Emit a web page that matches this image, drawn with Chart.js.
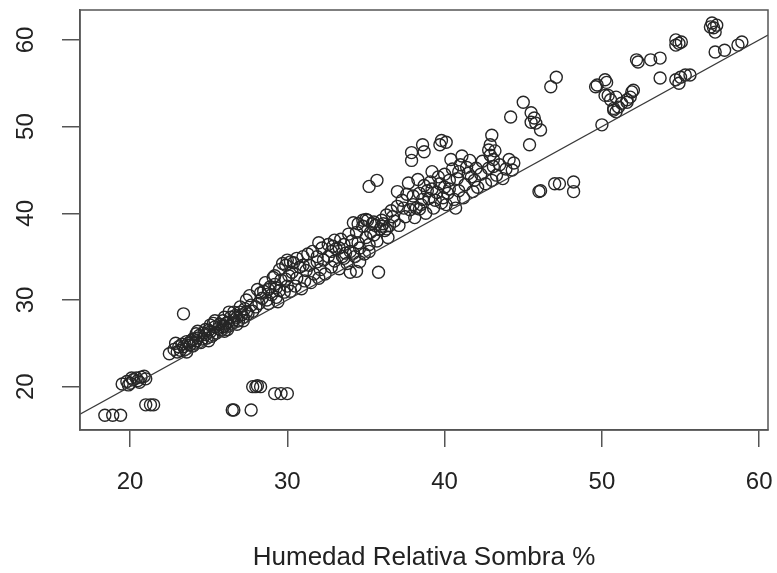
<!DOCTYPE html>
<html lang="es">
<head>
<meta charset="UTF-8">
<title>Humedad Relativa Sombra %</title>
<script src="https://cdn.jsdelivr.net/npm/chart.js"></script>
<style>
    html, body { margin: 0; padding: 0; background: #fff; }
    #wrap { width: 777px; height: 573px; }
</style>
</head>
<body>
<div id="wrap"><canvas id="scatter"></canvas></div>
<script>
// values, x = Humedad Relativa Sombra %
const xSombra = [
    18.4, 18.9, 19.4, 21.0, 21.3, 21.5, 26.5, 26.6, 27.7, 27.8, 28.0, 28.3, 28.1, 29.2, 29.6, 30.0, 23.4,
    19.5, 19.8, 20.0, 20.2, 20.4, 20.5, 20.7, 20.9, 20.6, 20.1, 21.0, 19.9,
    22.8, 23.0, 23.1, 23.3, 23.5, 23.6, 23.8, 24.0,
    24.2, 24.4, 24.5, 24.7, 24.9, 25.0, 25.2, 25.4, 25.5, 25.7, 25.8, 26.0, 24.3, 25.1, 25.9,
    26.2, 26.4, 26.5, 26.7, 26.9, 27.0, 27.2, 27.3, 27.5, 27.7, 27.8, 28.0, 26.3, 27.4, 27.6, 28.1,
    28.2, 28.4, 28.5, 28.7, 28.9, 29.0, 29.2, 29.3, 29.5, 29.6, 29.8, 30.0, 30.1, 28.6, 29.1, 29.7, 30.0, 29.4,
    30.2, 30.3, 30.5, 30.6, 30.8, 30.9, 31.1, 31.2, 31.4, 31.5, 31.7, 31.9, 32.0, 30.4, 31.0,
    32.1, 32.3, 32.4, 32.6, 32.8, 33.0, 33.1, 33.3, 33.5, 33.6, 33.8, 34.0, 32.0, 32.9, 33.4, 34.0, 34.4,
    34.1, 34.3, 34.4, 34.6, 34.8, 34.9, 35.0, 35.2, 35.4, 35.5, 35.7, 35.9, 36.0, 34.2, 35.0, 35.8,
    36.2, 36.3, 36.5, 36.6, 36.8, 37.0, 37.1, 37.3, 37.5, 37.6, 37.8, 38.0, 36.4, 37.0, 37.7, 38.0,
    38.1, 38.2, 38.4, 38.5, 38.7, 38.8, 39.0, 39.1, 39.3, 39.5, 39.6, 39.8, 40.0, 38.3, 39.2, 40.0, 38.9, 39.4,
    40.1, 40.2, 40.3, 40.5, 40.6, 40.8, 40.9, 41.0, 41.2, 41.3, 41.5, 41.6, 41.8, 41.9, 42.0, 40.4, 41.1, 40.7,
    42.1, 42.3, 42.4, 42.6, 42.8, 43.0, 43.1, 43.3, 43.5, 43.7, 43.9, 44.1, 44.3, 44.4, 42.9, 43.2,
    35.2, 35.7, 37.9, 37.9, 38.6, 38.7, 39.8, 40.1, 39.7, 43.0, 42.9, 42.8, 43.1, 44.2, 45.0,
    45.5, 45.7, 45.5, 45.8, 46.1, 45.4, 46.75, 47.1,
    46.0, 46.1, 47.0, 47.3, 48.2, 48.2,
    49.7, 49.6, 50.2, 50.3, 50.0, 50.2, 50.4, 50.55, 50.75, 50.75, 50.9, 50.9, 51.05, 51.25, 51.6, 51.6,
    51.8, 51.9, 52.0, 52.2, 52.3, 53.1, 53.7, 53.7, 54.7, 54.9, 54.7, 55.05, 54.7, 55.0, 55.3, 55.6, 54.9,
    57.0, 57.1, 57.2, 56.9, 57.3, 57.2, 57.8, 58.65, 58.9,
    23.2, 23.4, 23.7, 23.9, 24.1, 24.3, 24.6, 24.8, 25.1, 25.3, 25.6, 25.9, 26.1, 26.3, 26.6, 26.8,
    27.1, 27.4, 24.0, 25.3, 26.0, 26.8,
    28.3, 28.8, 29.3, 29.9, 28.8,
    38.6, 39.2, 39.7, 40.3, 40.9, 41.4, 39.9, 41.7, 38.4, 37.4,
    33.7, 34.5, 35.3, 35.6, 36.1, 36.7,
    29.2, 29.5, 29.9, 30.2, 30.6, 31.0, 31.3, 31.6, 31.9, 32.2, 32.6, 33.0, 33.3, 33.9, 34.5, 34.8,
    35.1, 35.5, 36.0, 36.3, 32.8, 33.6, 34.2, 34.6, 35.2,
    22.5, 22.9, 23.6, 24.2, 24.8, 25.4, 26.0, 26.6, 27.0, 25.0, 26.2, 27.2
];
const yHumedad = [
    16.7, 16.7, 16.7, 17.9, 17.9, 17.9, 17.3, 17.3, 17.3, 20.0, 20.0, 20.0, 20.1, 19.2, 19.2, 19.2, 28.4,
    20.3, 20.6, 20.4, 20.8, 21.0, 20.7, 21.1, 21.2, 20.5, 21.0, 20.9, 20.2,
    24.3, 24.0, 24.6, 24.9, 24.3, 25.2, 24.8, 25.5,
    25.3, 25.9, 25.1, 26.2, 25.6, 26.5, 25.8, 26.9, 26.2, 27.2, 26.5, 27.0, 26.4, 27.1, 27.6,
    27.4, 28.0, 27.3, 28.2, 27.6, 28.6, 28.0, 29.0, 28.4, 29.4, 28.7, 29.2, 28.6, 30.0, 30.5, 31.2,
    29.6, 30.2, 31.0, 30.0, 31.5, 30.6, 31.8, 30.3, 31.1, 32.3, 30.9, 31.6, 32.8, 32.0, 32.6, 34.2, 34.6, 29.8,
    31.0, 33.2, 31.6, 32.5, 33.8, 31.3, 32.2, 33.4, 34.0, 32.0, 33.0, 34.4, 32.5, 34.3, 35.0,
    33.5, 34.6, 33.0, 35.0, 33.8, 34.5, 35.9, 33.6, 35.0, 36.4, 34.2, 35.6, 36.6, 36.2, 37.0, 33.2, 33.3,
    36.8, 35.0, 37.8, 36.0, 38.5, 35.3, 37.2, 36.4, 38.8, 37.5, 36.8, 38.2, 39.2, 38.9, 39.3, 33.2,
    38.0, 39.8, 38.6, 40.3, 39.1, 40.8, 38.6, 41.5, 39.6, 42.2, 40.4, 41.0, 37.2, 42.5, 43.5, 42.0,
    39.5, 40.6, 42.3, 41.0, 43.2, 40.0, 41.7, 43.6, 40.6, 42.4, 44.2, 41.2, 43.0, 43.9, 44.8, 44.5, 42.6, 41.5,
    41.0, 42.3, 43.8, 45.1, 41.6, 44.0, 42.6, 45.6, 41.8, 43.3, 44.6, 46.1, 42.5, 43.8, 45.2, 46.2, 46.6, 40.6,
    43.0, 44.5, 46.0, 43.4, 45.2, 43.8, 46.2, 44.4, 45.6, 44.0, 45.1, 46.2, 45.0, 45.8, 46.7, 47.2,
    43.1, 43.8, 46.1, 47.0, 47.9, 47.1, 48.4, 48.2, 47.9, 49.0, 47.9, 47.3, 45.4, 51.1, 52.8,
    51.6, 51.0, 50.5, 50.4, 49.6, 47.9, 54.6, 55.7,
    42.5, 42.6, 43.4, 43.4, 43.6, 42.5,
    54.8, 54.6, 55.4, 55.1, 50.2, 53.6, 53.6, 53.1, 52.1, 51.9, 51.7, 53.4, 52.25, 52.7, 53.1, 52.8,
    53.4, 54.0, 54.2, 57.7, 57.45, 57.7, 57.9, 55.6, 60.0, 59.6, 59.4, 59.75, 55.4, 55.7, 55.95, 55.95, 55.0,
    61.95, 61.4, 60.9, 61.5, 61.7, 58.6, 58.8, 59.4, 59.75,
    24.2, 24.6, 25.0, 25.3, 25.0, 25.6, 25.5, 26.0, 26.3, 26.0, 26.7, 26.9, 27.3, 27.0, 27.7, 28.0,
    28.3, 28.6, 24.7, 27.3, 26.4, 27.2,
    30.8, 31.2, 31.4, 32.4, 29.6,
    41.6, 42.8, 43.4, 42.8, 44.8, 45.3, 41.8, 44.2, 40.5, 40.6,
    35.4, 36.6, 37.8, 38.6, 38.8, 39.6,
    32.8, 33.5, 34.0, 34.4, 34.8, 34.0, 35.3, 35.6, 35.0, 36.0, 36.4, 36.9, 36.0, 37.6, 38.8, 39.2,
    39.2, 39.0, 38.5, 38.2, 35.6, 34.8, 35.4, 34.4, 35.6,
    23.8, 25.0, 24.0, 26.1, 26.6, 27.6, 28.0, 28.6, 29.2, 25.3, 26.6, 27.6
];
const xTicks = [20, 30, 40, 50, 60];
const yTicks = [20, 30, 40, 50, 60];
const xRange = [16.82, 60.56];
const yRange = [15.0, 63.45];
// reference line y = a + b*x
const lineA = 0;
const lineB = 1;

const points = xSombra.map((x, i) => ({ x: x, y: yHumedad[i] }));
const refLine = xRange.map(x => ({ x: x, y: lineA + lineB * x }));

const boxPlugin = {
    id: 'box',
    afterDraw(chart) {
        const a = chart.chartArea;
        const ctx = chart.ctx;
        ctx.save();
        ctx.strokeStyle = '#555';
        ctx.lineWidth = 1.5;
        ctx.strokeRect(a.left, a.top, a.right - a.left, a.bottom - a.top);
        ctx.restore();
    }
};

const tickFont = { family: '"Liberation Sans", Arial, sans-serif', size: 24 };

new Chart(document.getElementById('scatter'), {
    type: 'scatter',
    data: {
        datasets: [
            {
                type: 'line',
                data: refLine,
                borderColor: '#3a3a3a',
                borderWidth: 1.2,
                pointRadius: 0,
                fill: false,
                order: 0
            },
            {
                data: points,
                pointStyle: 'circle',
                pointRadius: 6,
                pointBorderWidth: 1.4,
                pointBorderColor: '#262626',
                pointBackgroundColor: 'rgba(0,0,0,0)',
                order: 1
            }
        ]
    },
    options: {
        responsive: true,
        maintainAspectRatio: false,
        animation: false,
        layout: { padding: { top: 10, right: 9, left: 0, bottom: 0 } },
        plugins: { legend: { display: false }, tooltip: { enabled: false } },
        scales: {
            x: {
                type: 'linear',
                min: xRange[0],
                max: xRange[1],
                afterFit: s => { s.height = 143; s.paddingLeft = 0; s.paddingRight = 0; },
                afterBuildTicks: s => { s.ticks = xTicks.map(v => ({ value: v })); },
                grid: { drawOnChartArea: false, drawTicks: true, tickLength: 17, color: '#555', lineWidth: 1.5 },
                border: { display: true, color: '#555', width: 1.5 },
                ticks: { font: tickFont, color: '#222', padding: 21, maxRotation: 0 },
                title: {
                    display: true,
                    text: 'Humedad Relativa Sombra %',
                    font: { family: '"Liberation Sans", Arial, sans-serif', size: 26 },
                    color: '#222',
                    padding: { top: 0, bottom: 0 }
                }
            },
            y: {
                type: 'linear',
                min: yRange[0],
                max: yRange[1],
                afterFit: s => { s.width = 80; s.paddingTop = 0; s.paddingBottom = 0; },
                afterBuildTicks: s => { s.ticks = yTicks.map(v => ({ value: v })); },
                grid: { drawOnChartArea: false, drawTicks: true, tickLength: 18, color: '#555', lineWidth: 1.5 },
                border: { display: true, color: '#555', width: 1.5 },
                ticks: { font: tickFont, color: '#222', padding: 22, minRotation: 90, maxRotation: 90, crossAlign: 'center' }
            }
        }
    },
    plugins: [boxPlugin]
});
</script>
</body>
</html>
